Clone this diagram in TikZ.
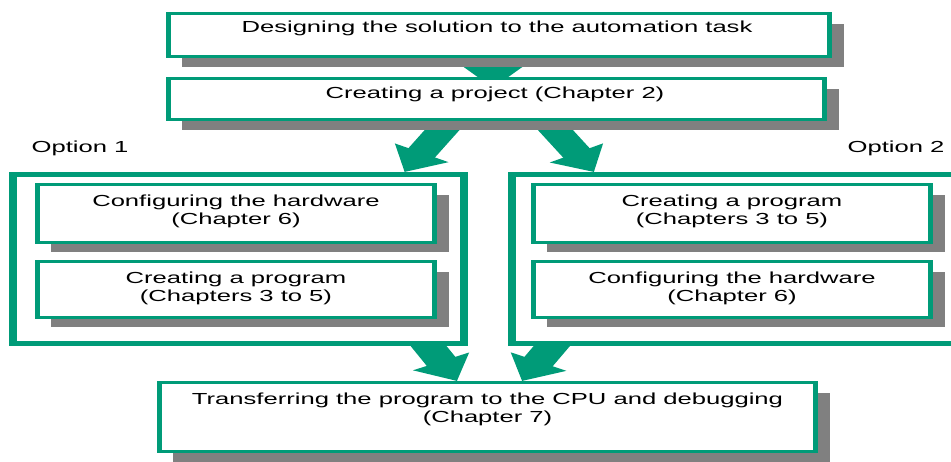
\documentclass[tikz,border=0pt]{standalone}
\usepackage{fontspec}
\setmainfont{Liberation Sans}
\usetikzlibrary{arrows.meta,shadows,fit,calc}
\definecolor{stepgreen}{RGB}{0,155,120}
\definecolor{shadowgray}{RGB}{128,128,128}
\begin{document}
\begin{tikzpicture}[
  box/.style={draw=stepgreen, line width=3pt, fill=white, inner sep=0pt,
    drop shadow={shadow xshift=8.75pt, shadow yshift=-10pt, fill=shadowgray, opacity=1}},
  frame/.style={draw=stepgreen, line width=4.8pt, fill=white, inner sep=0pt},
  txt/.style={font=\fontsize{16}{18}\selectfont, inner sep=0pt, anchor=base, align=center},
  flow/.style={draw=stepgreen, line width=19pt, -{Triangle[width=37pt,length=22pt]}}
]
\useasboundingbox (0pt,0pt) rectangle (951pt,-461pt);
% the whole chart is drawn narrow and widened on the canvas
\begin{scope}[transform canvas={xscale=1.6}, x=0.625pt, y=-1pt]
\clip (0,0) rectangle (951,461);

% frames and boxes (corners on the border centre line)
\coordinate (top-a) at (168.4,13.5);  \coordinate (top-b) at (829.6,56.5);
\coordinate (proj-a) at (168.4,78.5); \coordinate (proj-b) at (824.6,119.5);
\coordinate (opt1-a) at (12.8,174.4); \coordinate (opt1-b) at (464.2,343.6);
\coordinate (opt2-a) at (511.8,174.4); \coordinate (opt2-b) at (965,343.6);
\coordinate (la-a) at (37.4,184.5);   \coordinate (la-b) at (434.6,242);
\coordinate (lb-a) at (37.4,261.5);   \coordinate (lb-b) at (434.6,317);
\coordinate (ra-a) at (533.4,184.5);  \coordinate (ra-b) at (930.6,242);
\coordinate (rb-a) at (533.4,261.5);  \coordinate (rb-b) at (930.6,317);
\coordinate (bot-a) at (159.4,382.5); \coordinate (bot-b) at (815.6,451.5);

% invisible placeholders so the arrows can be drawn first
\path node[inner sep=0pt, outer sep=1.5pt, fit=(top-a)(top-b)] (top) {}
      node[inner sep=0pt, outer sep=1.5pt, fit=(proj-a)(proj-b)] (proj) {}
      node[inner sep=0pt, outer sep=2.4pt, fit=(opt1-a)(opt1-b)] (opt1) {}
      node[inner sep=0pt, outer sep=2.4pt, fit=(opt2-a)(opt2-b)] (opt2) {}
      node[inner sep=0pt, outer sep=1.5pt, fit=(bot-a)(bot-b)] (bot) {};

% arrows
\draw[flow] ($(top.south)+(-6,-5)$) -- ($(proj.north)+(-3.5,11)$);
\draw[flow] ($(proj.south)+(-36.5,-11)$) -- ($(opt1.north east)+(-63.5,0)$);
\draw[flow] ($(proj.south)+(40.5,-11)$) -- ($(opt2.north west)+(86,0)$);
\draw[flow, line width=20pt, -{Triangle[width=38pt,length=22pt]}]
  ($(opt1.south east)+(-52.5,-16)$) -- ($(bot.north)+(-30.5,0)$);
\draw[flow, line width=20pt, -{Triangle[width=38pt,length=22pt]}]
  ($(opt2.south west)+(57.5,-16)$) -- ($(bot.north)+(34.5,0)$);

% visible boxes
\node[box, fit=(top-a)(top-b)] (topbox) {};
\node[box, fit=(proj-a)(proj-b)] (projbox) {};
\node[frame, fit=(opt1-a)(opt1-b)] (opt1box) {};
\node[frame, fit=(opt2-a)(opt2-b)] (opt2box) {};
\node[box, fit=(la-a)(la-b)] (la) {};
\node[box, fit=(lb-a)(lb-b)] (lb) {};
\node[box, fit=(ra-a)(ra-b)] (ra) {};
\node[box, fit=(rb-a)(rb-b)] (rb) {};
\node[box, fit=(bot-a)(bot-b)] (botbox) {};

% texts (the base anchor of a two-line node is its last line)
\node[txt] (top-t) at (497,32.5) {Designing the solution to the automation task};
\node[txt] (proj-t) at (495,98.3) {Creating a project (Chapter 2)};
\node[txt] (opt1-t) at (80,152) {Option 1};
\node[txt] (opt2-t) at (896,152) {Option 2};
\node[txt] (la-t) at (236,224) {Configuring the hardware\\(Chapter 6)};
\node[txt] (lb-t) at (236,301) {Creating a program\\(Chapters 3 to 5)};
\node[txt] (ra-t) at (732,224) {Creating a program\\(Chapters 3 to 5)};
\node[txt] (rb-t) at (732,301) {Configuring the hardware\\(Chapter 6)};
\node[txt] (bot-t) at (487.5,422) {Transferring the program to the CPU and debugging\\(Chapter 7)};
\end{scope}
\end{tikzpicture}
\end{document}
